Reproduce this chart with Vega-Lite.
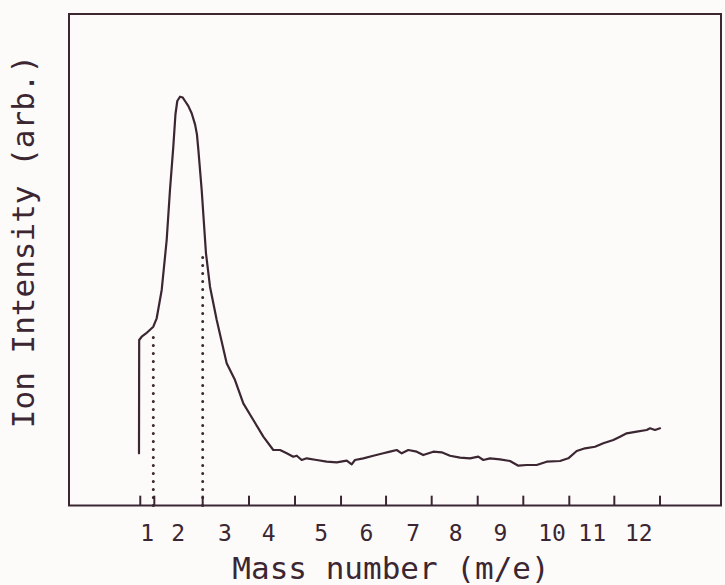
{
  "$schema": "https://vega.github.io/schema/vega-lite/v6.json",
  "width": 652,
  "height": 491.5,
  "autosize": {"type": "none"},
  "padding": {"left": 69, "top": 14, "right": 4, "bottom": 79.5},
  "background": "#fcfbfa",
  "config": {
    "view": {"stroke": "#3b2631", "strokeWidth": 2},
    "axis": {"grid": false, "domain": false, "ticks": false, "tickSize": 0}
  },
  "datasets": {
    "curve": [
      {"m": 1.102, "intensity": 10.62},
      {"m": 1.106, "intensity": 33.67},
      {"m": 1.161, "intensity": 34.34},
      {"m": 1.255, "intensity": 35.0},
      {"m": 1.415, "intensity": 36.38},
      {"m": 1.489, "intensity": 38.09},
      {"m": 1.599, "intensity": 43.85},
      {"m": 1.708, "intensity": 54.02},
      {"m": 1.78, "intensity": 64.19},
      {"m": 1.853, "intensity": 73.0},
      {"m": 1.9, "intensity": 79.6},
      {"m": 1.94, "intensity": 82.3},
      {"m": 1.999, "intensity": 83.17},
      {"m": 2.06, "intensity": 83.0},
      {"m": 2.109, "intensity": 82.3},
      {"m": 2.18, "intensity": 81.3},
      {"m": 2.255, "intensity": 79.8},
      {"m": 2.33, "intensity": 77.5},
      {"m": 2.37, "intensity": 75.5},
      {"m": 2.4, "intensity": 72.5},
      {"m": 2.474, "intensity": 64.19},
      {"m": 2.568, "intensity": 51.31},
      {"m": 2.656, "intensity": 44.52},
      {"m": 2.803, "intensity": 37.74},
      {"m": 3.021, "intensity": 28.93},
      {"m": 3.203, "intensity": 25.53},
      {"m": 3.385, "intensity": 20.79},
      {"m": 3.604, "intensity": 17.4},
      {"m": 3.823, "intensity": 14.0},
      {"m": 4.041, "intensity": 11.29},
      {"m": 4.188, "intensity": 11.29},
      {"m": 4.335, "intensity": 10.62},
      {"m": 4.479, "intensity": 9.93},
      {"m": 4.554, "intensity": 10.13},
      {"m": 4.663, "intensity": 9.26},
      {"m": 4.772, "intensity": 9.6},
      {"m": 4.991, "intensity": 9.26},
      {"m": 5.21, "intensity": 8.91},
      {"m": 5.429, "intensity": 8.79},
      {"m": 5.648, "intensity": 9.12},
      {"m": 5.757, "intensity": 8.38},
      {"m": 5.829, "intensity": 9.26},
      {"m": 6.011, "intensity": 9.6},
      {"m": 6.23, "intensity": 10.13},
      {"m": 6.449, "intensity": 10.62},
      {"m": 6.596, "intensity": 10.95},
      {"m": 6.742, "intensity": 11.29},
      {"m": 6.852, "intensity": 10.62},
      {"m": 6.996, "intensity": 11.29},
      {"m": 7.18, "intensity": 10.95},
      {"m": 7.324, "intensity": 10.27},
      {"m": 7.543, "intensity": 10.95},
      {"m": 7.727, "intensity": 10.82},
      {"m": 7.909, "intensity": 10.13},
      {"m": 8.128, "intensity": 9.73},
      {"m": 8.347, "intensity": 9.6},
      {"m": 8.528, "intensity": 9.93},
      {"m": 8.638, "intensity": 9.26},
      {"m": 8.784, "intensity": 9.6},
      {"m": 9.003, "intensity": 9.4},
      {"m": 9.222, "intensity": 9.05},
      {"m": 9.404, "intensity": 8.1},
      {"m": 9.588, "intensity": 8.24},
      {"m": 9.806, "intensity": 8.24},
      {"m": 10.025, "intensity": 8.91},
      {"m": 10.316, "intensity": 9.05},
      {"m": 10.498, "intensity": 9.6},
      {"m": 10.682, "intensity": 11.09},
      {"m": 10.864, "intensity": 11.64},
      {"m": 11.082, "intensity": 11.96},
      {"m": 11.264, "intensity": 12.66},
      {"m": 11.483, "intensity": 13.33},
      {"m": 11.63, "intensity": 14.0},
      {"m": 11.776, "intensity": 14.69},
      {"m": 11.995, "intensity": 15.02},
      {"m": 12.214, "intensity": 15.36},
      {"m": 12.286, "intensity": 15.71},
      {"m": 12.396, "intensity": 15.36},
      {"m": 12.505, "intensity": 15.71}
    ],
    "ticks": [
      {"m": 1.13}, {"m": 1.437}, {"m": 2.496}, {"m": 3.51}, {"m": 4.517},
      {"m": 5.524}, {"m": 6.509}, {"m": 7.508}, {"m": 8.515}, {"m": 9.513},
      {"m": 10.52}, {"m": 11.505}, {"m": 12.505}
    ],
    "dotted": [
      {"m": 1.415, "top": 34.69},
      {"m": 2.496, "top": 50.62}
    ]
  },
  "encoding": {
    "x": {
      "field": "m",
      "type": "quantitative",
      "scale": {"domain": [-0.43, 13.84], "nice": false, "zero": false},
      "axis": {
        "values": [1.27, 1.95, 2.97, 3.93, 5.08, 6.07, 7.09, 8.02, 9.0, 10.13, 11.01, 12.03],
        "labelExpr": "format(round(datum.value), 'd')",
        "labelFont": "DejaVu Sans Mono",
        "labelFontSize": 23,
        "labelColor": "#3b2631",
        "labelBaseline": "alphabetic",
        "labelAlign": "center",
        "labelPadding": 34.5,
        "labelFlush": false,
        "labelOverlap": false,
        "title": "Mass number (m/e)",
        "titleFont": "DejaVu Sans Mono",
        "titleFontSize": 31,
        "titleFontWeight": "normal",
        "titleColor": "#3b2631",
        "titleX": 321.5,
        "titleY": 73,
        "titleAlign": "center",
        "titleBaseline": "alphabetic"
      }
    }
  },
  "layer": [
    {
      "data": {"name": "curve"},
      "mark": {"type": "line", "color": "#3b2631", "strokeWidth": 2.2, "strokeJoin": "round", "strokeCap": "round"},
      "encoding": {
        "y": {
          "field": "intensity",
          "type": "quantitative",
          "scale": {"domain": [0, 100], "nice": false, "zero": false},
          "axis": {
            "labels": false,
            "title": "Ion Intensity (arb.)",
            "titleFont": "DejaVu Sans Mono",
            "titleFontSize": 31,
            "titleFontWeight": "normal",
            "titleColor": "#3b2631",
            "titleAngle": 270,
            "titleX": -35.7,
            "titleY": 227,
            "titleAlign": "center",
            "titleBaseline": "alphabetic"
          }
        }
      }
    },
    {
      "data": {"name": "ticks"},
      "mark": {"type": "rule", "color": "#3b2631", "strokeWidth": 2},
      "encoding": {
        "y": {"datum": 0},
        "y2": {"datum": 2}
      }
    },
    {
      "data": {"name": "dotted"},
      "mark": {"type": "rule", "color": "#3b2631", "strokeWidth": 3, "strokeDash": [0.1, 7.9], "strokeCap": "round"},
      "encoding": {
        "y": {"datum": 0},
        "y2": {"field": "top", "type": "quantitative"}
      }
    }
  ]
}
